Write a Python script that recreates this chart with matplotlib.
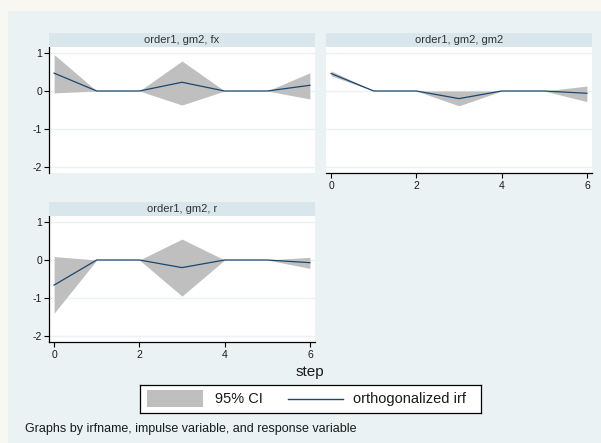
import matplotlib
matplotlib.use("Agg")
import matplotlib.pyplot as plt
from matplotlib.patches import Rectangle
from matplotlib.lines import Line2D

plt.rcParams['font.family'] = ['Liberation Sans', 'DejaVu Sans']

# ---- data ----
steps = [0, 1, 2, 3, 4, 5, 6]
titles = ["order1, gm2, fx", "order1, gm2, gm2", "order1, gm2, r"]
fx_irf = [0.47, 0, 0, 0.23, 0, 0, 0.15]
fx_lo = [-0.05, 0, 0, -0.37, 0, 0, -0.21]
fx_hi = [0.96, 0, 0, 0.79, 0, 0, 0.48]
gm2_irf = [0.46, 0, 0, -0.20, 0, 0, -0.06]
gm2_lo = [0.40, 0, 0, -0.39, 0, 0, -0.28]
gm2_hi = [0.53, 0, 0, 0.0, 0, 0, 0.13]
r_irf = [-0.66, 0, 0, -0.20, 0, 0, -0.07]
r_lo = [-1.40, 0, 0, -0.95, 0, 0, -0.22]
r_hi = [0.09, 0, 0, 0.55, 0, 0, 0.07]
yticks = [-2, -1, 0, 1]
xticks = [0, 2, 4, 6]
legend_labels = ["95% CI", "orthogonalized irf"]
note = "Graphs by irfname, impulse variable, and response variable"
xtitle = "step"

BG = "#eaf2f3"
STRIP = "#d9e6eb"
CI = "#bfbfbf"
LINE = "#1a476f"
W, H = 601, 443

fig = plt.figure(figsize=(W / 100, H / 100), dpi=100)
fig.patch.set_facecolor("#f8f7f2")
fig.patches.append(Rectangle((8 / W, 0), 1, 1 - 11 / H, transform=fig.transFigure,
                             facecolor=BG, edgecolor="none", zorder=-10))


def px(l, t, r, b):
    return [l / W, 1 - b / H, (r - l) / W, (b - t) / H]


panels = [
    (titles[0], fx_irf, fx_lo, fx_hi, (49, 47, 315, 173), True, False),
    (titles[1], gm2_irf, gm2_lo, gm2_hi, (326, 47, 592, 173), False, True),
    (titles[2], r_irf, r_lo, r_hi, (49, 216, 315, 342), True, True),
]

for title, irf, lo, hi, (l, t, r, b), showy, showx in panels:
    ax = fig.add_axes(px(l, t, r, b))
    ax.set_facecolor("white")
    ax.fill_between(steps, lo, hi, color=CI, linewidth=0, zorder=2)
    ax.plot(steps, irf, color=LINE, lw=0.9, zorder=3)
    for yv in yticks:
        ax.axhline(yv, color=BG, lw=1.0, zorder=1)
    ax.set_xlim(-0.12, 6.12)
    ax.set_ylim(-2.158, 1.158)
    for s in ["top", "right"]:
        ax.spines[s].set_visible(False)
    ax.spines["left"].set_visible(showy)
    ax.spines["bottom"].set_visible(showx)
    ax.spines["left"].set_linewidth(0.9)
    ax.spines["bottom"].set_linewidth(0.9)
    if showy:
        ax.set_yticks(yticks)
        ax.set_yticklabels([str(v) for v in yticks], fontsize=7.5, color="#1a1a1a")
        ax.tick_params(axis="y", length=3.5, width=0.8, pad=1.5)
    else:
        ax.set_yticks([])
    if showx:
        ax.set_xticks(xticks)
        ax.set_xticklabels([str(v) for v in xticks], fontsize=7.5, color="#1a1a1a")
        ax.tick_params(axis="x", length=3.5, width=0.8, pad=2)
    else:
        ax.set_xticks([])
    # strip
    sax = fig.add_axes(px(l, t - 14, r, t))
    sax.set_facecolor(STRIP)
    sax.set_xticks([])
    sax.set_yticks([])
    for s in sax.spines.values():
        s.set_visible(False)
    sax.text(0.5, 0.5, title, ha="center", va="center", fontsize=8,
             color="#333333", transform=sax.transAxes)

fig.text(310 / W, 1 - 372 / H, xtitle, ha="center", va="center", fontsize=11, color="#1a1a1a")

# legend
lax = fig.add_axes(px(140, 385, 481, 413))
lax.set_xlim(140, 481)
lax.set_ylim(413, 385)
lax.set_xticks([])
lax.set_yticks([])
lax.set_facecolor("white")
for s in lax.spines.values():
    s.set_linewidth(0.9)
    s.set_color("black")
lax.add_patch(Rectangle((147, 390), 56, 17, facecolor=CI, edgecolor="none"))
lax.text(215, 399, legend_labels[0], ha="left", va="center", fontsize=10.5, color="#1a1a1a")
lax.add_line(Line2D([288, 343], [399, 399], color=LINE, lw=1.0))
lax.text(353, 399, legend_labels[1], ha="left", va="center", fontsize=10.5, color="#1a1a1a")

fig.text(25 / W, 1 - 429 / H, note, ha="left", va="center", fontsize=9, color="#1a1a1a")

fig.savefig("out.png", dpi=100, facecolor=fig.get_facecolor())
